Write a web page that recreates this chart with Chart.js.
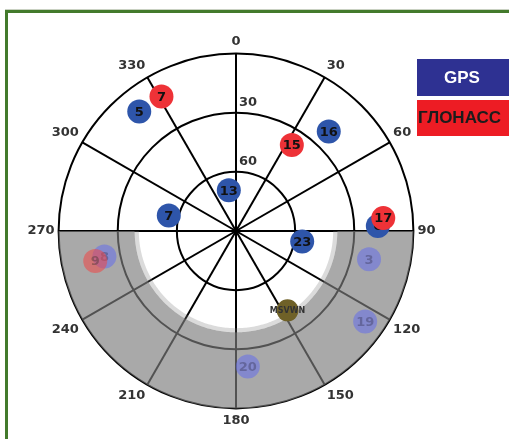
<!DOCTYPE html>
<html>
<head>
<meta charset="utf-8">
<script src="https://cdn.jsdelivr.net/npm/chart.js@4.4.1/dist/chart.umd.min.js"></script>
<style>
  html, body { margin: 0; padding: 0; background: #fff; }
  body { width: 509px; height: 439px; position: relative; overflow: hidden; }
  .frame { position: absolute; left: 5px; top: 10px; width: 600px; height: 600px; border-left: 3px solid #437a2c; border-top: 3px solid #437a2c; box-shadow: 0 -1px 0 #c9d1c2; }
  #skyplot { position: absolute; left: 0; top: 0; }
  .legend-box { position: absolute; left: 417px; width: 110px; height: 37px; }
  .legend-box span { position: absolute; top: 0; white-space: nowrap; }
  #gpsKey { top: 59px; background: #2e3192; }
  #gpsKey span { left: 27px; color: #fff; font: bold 17px/37px 'Liberation Sans', Arial, sans-serif; }
  #glonassKey { top: 100px; height: 36px; background: #ed1c24; }
  #glonassKey span { left: 1px; color: #1c1c1c; font: bold 17px/36px 'Liberation Sans', Arial, sans-serif; }
</style>
</head>
<body>
<div class="frame"></div>
<canvas id="skyplot" width="509" height="439"></canvas>
<div class="legend-box" id="gpsKey"><span>GPS</span></div>
<div class="legend-box" id="glonassKey"><span>ГЛОНАСС</span></div>
<script>
const azimuthTicks = [0, 30, 60, 90, 120, 150, 180, 210, 240, 270, 300, 330];
const elevationTicks = [30, 60];

const gpsIds = ['5', '16', '13', '7', '6', '23'];
const gpsAzimuth = [321, 43, 350, 283, 88, 99];
const gpsElevation = [12, 21, 69, 55, 18, 56];

const glonassIds = ['7', '15', '17'];
const glonassAzimuth = [331, 33, 85];
const glonassElevation = [12, 38, 15];

const gpsMaskedIds = ['3', '8', '19', '20'];
const gpsMaskedAzimuth = [102, 259, 125, 175];
const gpsMaskedElevation = [21, 22, 10, 21];

const glonassMaskedIds = ['9'];
const glonassMaskedAzimuth = [258];
const glonassMaskedElevation = [17];

const stationIds = ['MSVWN'];
const stationAzimuth = [147];
const stationElevation = [42];

// obstruction mask: lower half of the sky below this elevation
const maskAzimuthFrom = 90;
const maskAzimuthTo = 270;
const maskElevation = 38.6;
const maskEdgeElevation = 40.7;

const degrees = Array.from({ length: 360 }, (_, i) => String(i));

function toZenith(el) {
  return 90 - el;
}

function placeAt(ids, azimuth, elevation) {
  const data = degrees.map(() => null);
  const names = degrees.map(() => null);
  azimuth.forEach((az, i) => {
    data[az] = toZenith(elevation[i]);
    names[az] = ids[i];
  });
  return { data, names };
}

function maskRing(el) {
  return degrees.map((d, i) => (i >= maskAzimuthFrom && i <= maskAzimuthTo ? toZenith(el) : 0));
}

function satelliteDataset(label, placed, color, labelColor, order, radius = 12, labelFont = 'bold 13px "DejaVu Sans"') {
  return {
    label,
    data: placed.data,
    names: placed.names,
    labelColor,
    labelFont,
    order,
    showLine: false,
    pointRadius: radius,
    pointHoverRadius: radius,
    pointBorderWidth: 0,
    pointBackgroundColor: color,
  };
}

const satelliteLabels = {
  id: 'satelliteLabels',
  afterDatasetDraw(chart, args) {
    const ds = chart.data.datasets[args.index];
    if (!ds.names) {
      return;
    }
    const ctx = chart.ctx;
    ctx.save();
    ctx.font = ds.labelFont;
    ctx.fillStyle = ds.labelColor;
    ctx.textAlign = 'center';
    ctx.textBaseline = 'middle';
    args.meta.data.forEach((pt, i) => {
      if (ds.names[i] == null) {
        return;
      }
      ctx.fillText(ds.names[i], pt.x, pt.y + 1);
    });
    ctx.restore();
  },
};

const elevationLabels = {
  id: 'elevationLabels',
  afterDatasetsDraw(chart) {
    const r = chart.scales.r;
    const ctx = chart.ctx;
    ctx.save();
    ctx.font = 'bold 13px "DejaVu Sans"';
    ctx.fillStyle = '#333';
    ctx.textAlign = 'left';
    ctx.textBaseline = 'alphabetic';
    elevationTicks.forEach((e) => {
      const d = r.getDistanceFromCenterForValue(toZenith(e));
      ctx.fillText(String(e), r.xCenter + 3, r.yCenter - d - 7);
    });
    ctx.restore();
  },
};

new Chart(document.getElementById('skyplot'), {
  type: 'radar',
  data: {
    labels: degrees,
    datasets: [
      { label: 'mask outer', data: maskRing(0), fill: false, order: 10, pointRadius: 0, borderWidth: 0, borderColor: 'transparent' },
      { label: 'mask', data: maskRing(maskElevation), fill: '-1', order: 9, pointRadius: 0, borderWidth: 0, borderColor: 'transparent', backgroundColor: 'rgba(125, 125, 125, 0.66)' },
      { label: 'mask edge', data: maskRing(maskEdgeElevation), fill: '-1', order: 8, pointRadius: 0, borderWidth: 0, borderColor: 'transparent', backgroundColor: 'rgba(125, 125, 125, 0.28)' },
      satelliteDataset('GPS masked', placeAt(gpsMaskedIds, gpsMaskedAzimuth, gpsMaskedElevation), 'rgba(100, 110, 235, 0.55)', 'rgba(70, 70, 110, 0.5)', 5),
      satelliteDataset('GLONASS masked', placeAt(glonassMaskedIds, glonassMaskedAzimuth, glonassMaskedElevation), 'rgba(240, 70, 70, 0.55)', 'rgba(90, 60, 60, 0.5)', 4),
      satelliteDataset('GPS', placeAt(gpsIds, gpsAzimuth, gpsElevation), '#2e55aa', '#111', 3),
      satelliteDataset('GLONASS', placeAt(glonassIds, glonassAzimuth, glonassElevation), '#ee3237', '#111', 2),
      satelliteDataset('Station', placeAt(stationIds, stationAzimuth, stationElevation), '#6f6128', '#333', 1, 11, 'bold 8px "DejaVu Sans"'),
    ],
  },
  options: {
    responsive: false,
    animation: false,
    events: [],
    layout: { padding: { left: 8, right: 45, top: 35, bottom: 10 } },
    plugins: {
      legend: { display: false },
      tooltip: { enabled: false },
    },
    scales: {
      r: {
        min: 0,
        max: 90,
        startAngle: 0,
        ticks: { display: false, stepSize: 30 },
        grid: { circular: true, color: '#000', lineWidth: 2 },
        angleLines: {
          color: '#000',
          lineWidth: (c) => (azimuthTicks.includes(c.index) ? 2 : 0),
        },
        pointLabels: {
          display: true,
          padding: 4,
          color: '#333',
          font: { family: 'DejaVu Sans', size: 13, weight: 'bold' },
          callback: (label, i) => (azimuthTicks.includes(i) ? label : ''),
        },
      },
    },
  },
  plugins: [satelliteLabels, elevationLabels],
});
</script>
</body>
</html>
